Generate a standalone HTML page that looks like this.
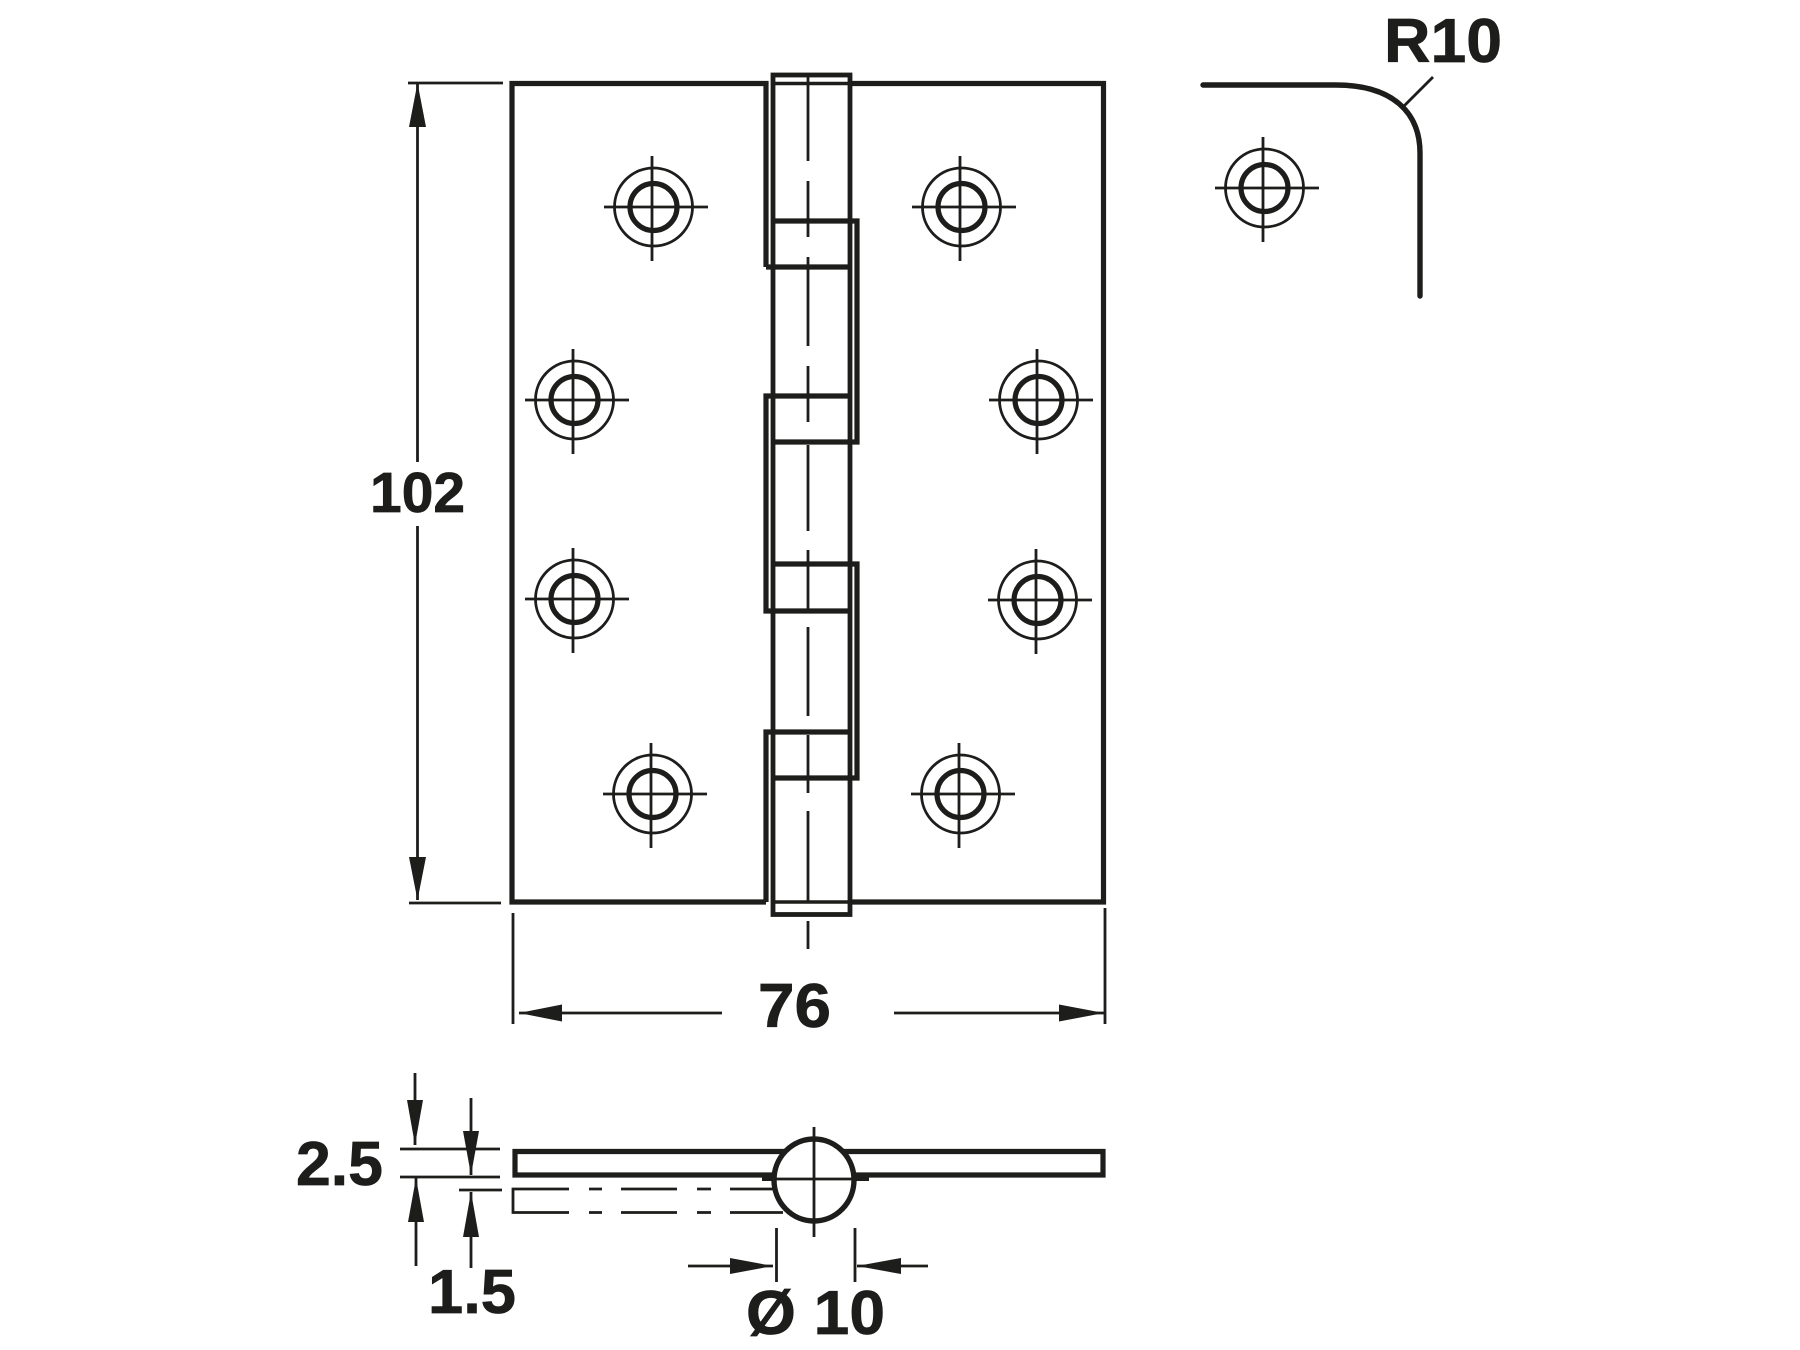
<!DOCTYPE html>
<html><head><meta charset="utf-8"><style>html,body{margin:0;padding:0;background:#fff}svg{display:block}text{font-family:"Liberation Sans",sans-serif;font-weight:bold;fill:#1d1d1b;stroke:#1d1d1b;stroke-width:.7}</style></head>
<body>
<svg width="1800" height="1350" viewBox="0 0 1800 1350" xmlns="http://www.w3.org/2000/svg">
<defs>
<g id="s" fill="none" stroke="#1d1d1b">
<circle cx="1.5" cy="0" r="39" stroke-width="2.8"/>
<circle cx="1.5" cy="0" r="23.5" stroke-width="5.2"/>
<path d="M-48 0H56M0 -51V54" stroke-width="2.8"/>
</g>
</defs>
<rect width="1800" height="1350" fill="#fff"/>
<g fill="none" stroke="#1d1d1b" stroke-width="5.2" stroke-linejoin="miter">
<!-- plate -->
<path d="M766 267V83.5H512V902H766"/>
<path d="M850 83.5H1103.5V902H850"/>
<path d="M773 83.5H850M773 902H850" stroke-width="3.5"/>
<!-- pin -->
<rect x="773" y="75" width="77" height="839.5" stroke-width="4.8"/>
<!-- knuckles -->
<path d="M773 221H857V442H773"/>
<path d="M850 267H766M850 396H766V611H850"/>
<path d="M773 564H857V778H773"/>
<path d="M850 732H766V902"/>
</g>
<!-- centre line -->
<path d="M808 74V161M808 181V237M808 257V346M808 366V422M808 445V531M808 550V609M808 627V716M808 735V793M808 811V902M808 921V949" fill="none" stroke="#1d1d1b" stroke-width="2.8"/>
<!-- screws -->
<use href="#s" x="652" y="207"/>
<use href="#s" x="573" y="400"/>
<use href="#s" x="573" y="599"/>
<use href="#s" x="651" y="794"/>
<use href="#s" x="960" y="207"/>
<use href="#s" x="1037" y="400"/>
<use href="#s" x="1036" y="600"/>
<use href="#s" x="959" y="794"/>
<use href="#s" x="1263" y="188"/>
<!-- corner -->
<path d="M1203 85H1336C1392 85 1420 112 1420 153V296" fill="none" stroke="#1d1d1b" stroke-width="5.4" stroke-linecap="round"/>
<path d="M1403 107L1433 77" stroke="#1d1d1b" stroke-width="2.8"/>
<!-- dimensions -->
<g fill="none" stroke="#1d1d1b" stroke-width="2.8">
<path d="M408 83H503M409 903H501M417.5 83V462M417.5 526V900"/>
<path d="M513 913V1024M1105 908V1024M519 1013H722M894 1013H1104"/>
<path d="M400 1149H500M400 1177H500M459 1190H502"/>
<path d="M415 1073V1145M471 1098V1175M416 1178V1266M471 1192V1268"/>
<path d="M776.5 1228V1282M855 1228V1282M688 1266H773M857 1266H928"/>
</g>
<g fill="#1d1d1b">
<path d="M417.5 83L409 127H426Z"/>
<path d="M417.5 900L409 857H426Z"/>
<path d="M519 1013L562 1004.500V1021.500Z"/>
<path d="M1104 1013L1059 1004.500V1021.500Z"/>
<path d="M415 1145L407 1100H423Z"/>
<path d="M471 1175L463 1131H479Z"/>
<path d="M416 1178L408 1222H424Z"/>
<path d="M471 1192L463 1237H479Z"/>
<path d="M773 1266L730 1258V1274Z"/>
<path d="M857 1266L901 1258V1274Z"/>
</g>
<!-- side view -->
<g fill="none" stroke="#1d1d1b" stroke-width="5.2">
<path d="M800 1151.500H515V1175H776M830 1151.500H1103V1175H852"/>
<path d="M762 1179H776M852 1179H869" stroke-width="4"/>
</g>
<path d="M569 1189H513V1212.500H569M589 1189H602M621 1189H677M697 1189H711M730 1189H773M589 1212.500H602M621 1212.500H677M697 1212.500H711M730 1212.500H783" fill="none" stroke="#1d1d1b" stroke-width="2.8"/>
<ellipse cx="814" cy="1180" rx="40" ry="41" fill="#fff" stroke="#1d1d1b" stroke-width="5.4"/>
<path d="M814 1127V1237M774 1179H854" stroke="#1d1d1b" stroke-width="2.8"/>
<!-- labels -->
<text x="370" y="512" font-size="57">102</text>
<text x="758" y="1027" font-size="62" textLength="73" lengthAdjust="spacingAndGlyphs">76</text>
<text x="1384" y="62" font-size="62" textLength="118" lengthAdjust="spacingAndGlyphs">R10</text>
<text x="296" y="1185" font-size="62" textLength="87" lengthAdjust="spacingAndGlyphs">2.5</text>
<text x="428" y="1313" font-size="62" textLength="88" lengthAdjust="spacingAndGlyphs">1.5</text>
<text x="746" y="1334" font-size="62" textLength="139" lengthAdjust="spacingAndGlyphs">Ø 10</text>
</svg>
</body></html>
